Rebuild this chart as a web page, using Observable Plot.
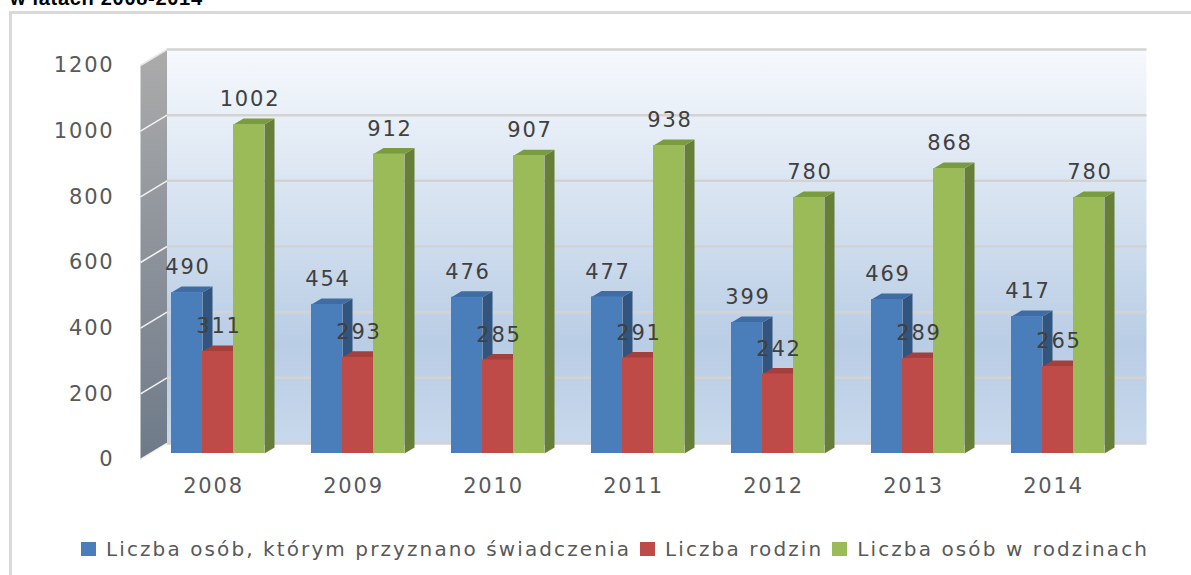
<!DOCTYPE html>
<html>
<head>
<meta charset="utf-8">
<script src="https://cdn.jsdelivr.net/npm/d3@7"></script>
<script src="https://cdn.jsdelivr.net/npm/@observablehq/plot@0.6"></script>
<style>
  html, body { margin: 0; padding: 0; background: #fff; overflow: hidden; }
  #wrap { position: relative; width: 1191px; height: 575px; overflow: hidden; }
  #title { position: absolute; left: 10px; top: -12px; font: bold 20px "Liberation Sans", Arial, sans-serif; line-height: 20px; color: #000; letter-spacing: 0.7px; white-space: nowrap; }
  #frame { position: absolute; left: 9px; top: 11px; width: 1250px; height: 700px; border: 3px solid #D9D9D9; box-sizing: border-box; pointer-events: none; }
  #chart { position: absolute; left: 0; top: 0; }
  #chart svg text { letter-spacing: 1.8px; }
  #legend { position: absolute; left: 81px; top: 537px; display: flex; align-items: center; font: 20px "DejaVu Sans", sans-serif; color: #595959; white-space: nowrap; letter-spacing: 2.1px; }
  #legend .item { display: flex; align-items: center; margin-right: 9px; }
  #legend .sw { width: 15px; height: 14px; margin-right: 10px; }
</style>
</head>
<body>
<div id="wrap">
  <div id="title">w latach 2008-2014</div>
  <div id="chart"></div>
  <div id="frame"></div>
  <div id="legend"></div>
</div>
<script>
// ---- data ----
const years = ["2008", "2009", "2010", "2011", "2012", "2013", "2014"];
const osobyPrzyznano = [490, 454, 476, 477, 399, 469, 417];
const rodziny = [311, 293, 285, 291, 242, 289, 265];
const osobyWRodzinach = [1002, 912, 907, 938, 780, 868, 780];
const seriesNames = ["Liczba osób, którym przyznano świadczenia", "Liczba rodzin", "Liczba osób w rodzinach"];
const yTicks = [0, 200, 400, 600, 800, 1000, 1200];

// ---- styles ----
const palette = [
  {front: "#4A7EBB", top: "#3E6CA3", side: "#31557F"},
  {front: "#BE4B48", top: "#A33F3C", side: "#8B3432"},
  {front: "#9BBB59", top: "#7B9B40", side: "#667E35"}
];

const W = 1191, H = 575;
const mL = 140, mR = 71, mT = 65, mB = 116;
const xDomain = [-0.5, years.length - 0.5];
const yDomain = [0, 1200];
const kx = (W - mL - mR) / (xDomain[1] - xDomain[0]); // px per x unit
const ky = (H - mT - mB) / (yDomain[1] - yDomain[0]); // px per y unit

// 3D depth (pixels) converted to data units
const wallDX = 26.5, wallDY = -16;
const wx = wallDX / kx, wy = -wallDY / ky;
const barDX = 7.5, barDY = -6;
const depX = 10 / kx, depY = 6 / ky;
const bw = 31 / kx;

const allSeries = [osobyPrzyznano, rodziny, osobyWRodzinach];

const bars = [];
allSeries.forEach((vals, s) => vals.forEach((v, i) => {
  const x1 = i + (s - 1.5) * bw;
  bars.push({s, i, v, x1, x2: x1 + bw, xc: x1 + bw / 2});
}));

function topPoly(s) {
  const pts = [];
  bars.filter(b => b.s === s).forEach(b => {
    pts.push({k: b.i, x: b.x1, y: b.v});
    pts.push({k: b.i, x: b.x2, y: b.v});
    pts.push({k: b.i, x: b.x2 + depX, y: b.v + depY});
    pts.push({k: b.i, x: b.x1 + depX, y: b.v + depY});
  });
  return pts;
}
function sidePoly(s) {
  const pts = [];
  bars.filter(b => b.s === s).forEach(b => {
    pts.push({k: b.i, x: b.x2, y: 0});
    pts.push({k: b.i, x: b.x2, y: b.v});
    pts.push({k: b.i, x: b.x2 + depX, y: b.v + depY});
    pts.push({k: b.i, x: b.x2 + depX, y: depY});
  });
  return pts;
}
const leftWall = [
  {x: xDomain[0], y: yDomain[0]},
  {x: xDomain[0], y: yDomain[1]},
  {x: xDomain[0] + wx, y: yDomain[1] + wy},
  {x: xDomain[0] + wx, y: yDomain[0] + wy}
];

const barMarks = [];
[0, 1, 2].forEach(s => {
  const c = palette[s];
  const data = bars.filter(b => b.s === s);
  barMarks.push(Plot.line(sidePoly(s), {x: "x", y: "y", z: "k", fill: c.side, stroke: "none", dx: barDX, dy: barDY}));
  barMarks.push(Plot.line(topPoly(s), {x: "x", y: "y", z: "k", fill: c.top, stroke: "none", dx: barDX, dy: barDY}));
  barMarks.push(Plot.rect(data, {x1: "x1", x2: "x2", y1: () => 0, y2: "v", fill: c.front, dx: barDX, dy: barDY}));
});

const chart = Plot.plot({
  width: W, height: H,
  marginLeft: mL, marginRight: mR, marginTop: mT, marginBottom: mB,
  style: {background: "transparent", fontFamily: "'DejaVu Sans', sans-serif"},
  x: {type: "linear", domain: xDomain},
  y: {type: "linear", domain: yDomain},
  marks: [
    // back wall
    Plot.rect([{}], {x1: () => xDomain[0], x2: () => xDomain[1], y1: () => yDomain[0], y2: () => yDomain[1], fill: "url(#backGrad)", dx: wallDX, dy: wallDY}),
    Plot.ruleY(yTicks, {x1: () => xDomain[0], x2: () => xDomain[1], y: d => d, stroke: "#D3D3D3", strokeWidth: 2.5, dx: wallDX, dy: wallDY}),
    // left wall
    Plot.line(leftWall, {x: "x", y: "y", fill: "url(#leftGrad)", stroke: "none"}),
    Plot.link(yTicks.slice(0, -1), {x1: () => xDomain[0], y1: d => d, x2: () => xDomain[0] + wx, y2: d => d + wy, stroke: "#F2F2F2", strokeWidth: 1.5}),
    Plot.link([yDomain[1]], {x1: () => xDomain[0], y1: d => d, x2: () => xDomain[0] + wx, y2: d => d + wy, stroke: "#E6E6E6", strokeWidth: 1.5}),
    ...barMarks,
    // value labels
    Plot.text(bars, {x: "xc", y: "v", text: d => String(d.v), dx: barDX + 1, dy: barDY - 25, fontSize: 21, fill: "#404040"}),
    // axes
    Plot.axisY(yTicks, {tickSize: 0, tickPadding: 26, tickFormat: d => String(d), fontSize: 21, color: "#595959", label: null}),
    Plot.axisX(d3.range(years.length), {tickFormat: i => years[i], tickSize: 0, tickPadding: 19, dx: 3, fontSize: 21, color: "#595959", label: null})
  ]
});

// gradients
const defs = d3.select(chart).append("defs");
const bg = defs.append("linearGradient").attr("id", "backGrad").attr("x1", 0).attr("y1", 0).attr("x2", 0).attr("y2", 1);
bg.append("stop").attr("offset", "0%").attr("stop-color", "#F6F9FD");
bg.append("stop").attr("offset", "40%").attr("stop-color", "#D6E2F0");
bg.append("stop").attr("offset", "75%").attr("stop-color", "#B9CDE5");
bg.append("stop").attr("offset", "100%").attr("stop-color", "#C8D8EC");
const lg = defs.append("linearGradient").attr("id", "leftGrad").attr("x1", 0).attr("y1", 0).attr("x2", 0).attr("y2", 1);
lg.append("stop").attr("offset", "0%").attr("stop-color", "#ABABAB");
lg.append("stop").attr("offset", "100%").attr("stop-color", "#6E7A89");

document.getElementById("chart").appendChild(chart);

// legend
const legend = d3.select("#legend");
seriesNames.forEach((name, s) => {
  const it = legend.append("div").attr("class", "item");
  it.append("div").attr("class", "sw").style("background", palette[s].front);
  it.append("span").text(name);
});
</script>
</body>
</html>
